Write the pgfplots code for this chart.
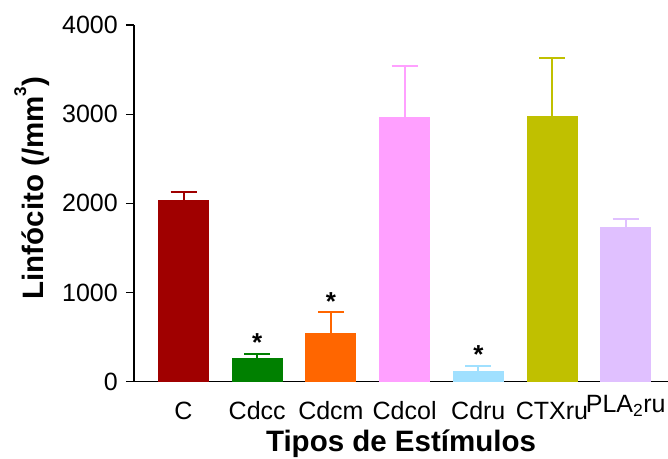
\documentclass[border=0pt]{standalone}
\usepackage{pgfplots}
\pgfplotsset{compat=1.18}
\usepackage{fontspec}
\setmainfont{Liberation Sans}

\definecolor{cC}{RGB}{160,0,0}
\definecolor{cDcc}{RGB}{0,128,0}
\definecolor{cDcm}{RGB}{255,102,0}
\definecolor{cDcol}{RGB}{255,160,255}
\definecolor{cDru}{RGB}{160,224,255}
\definecolor{cCTX}{RGB}{192,192,0}
\definecolor{cPLA}{RGB}{224,192,255}

\pgfplotsset{
  stimbar/.style={
    fill=#1, draw=none, bar width=51pt, bar shift=0pt,
    error bars/.cd, y dir=plus, y explicit,
    error bar style={draw=#1, line width=2pt},
    error mark options={draw=#1, line width=2pt, rotate=90, mark size=13pt},
  },
}

\begin{document}
\begin{tikzpicture}
\useasboundingbox (-134pt,-76.3pt) rectangle (534pt,381.7pt);
\begin{axis}[
  at={(0,0)}, anchor=south west,
  scale only axis, width=534pt, height=356.7pt,
  ybar,
  xmin=-0.672, xmax=6.574, ymin=0, ymax=4000,
  axis x line*=bottom, axis y line*=left,
  axis line style={line width=1.3pt},
  clip=false,
  xtick={0,...,6},
  xticklabels={C,Cdcc,Cdcm,Cdcol,Cdru,CTXru,\raisebox{7pt}{PLA\textsubscript{2}ru}},
  x tick style={draw=none},
  xticklabel style={anchor=base, yshift=-30pt, inner sep=0pt,
    font=\fontsize{25}{30}\selectfont},
  ytick={0,1000,2000,3000,4000},
  yticklabels={0,1000,2000,3000,4000},
  tick align=outside,
  major tick length=8pt,
  y tick style={line width=1.3pt, black},
  yticklabel style={anchor=east, inner sep=0pt, xshift=-8pt,
    font=\fontsize{25}{30}\selectfont},
  xlabel={Tipos de Estímulos},
  xlabel style={at={(axis description cs:0.5,0)}, anchor=base,
    yshift=-70pt, font=\fontsize{29.5}{34}\bfseries},
  ylabel={Linfócito (/mm\raisebox{17pt}{\fontsize{17}{17}\selectfont 3})},
  ylabel style={at={(axis description cs:-0.1704,0.543)}, anchor=base,
    rotate=0, font=\fontsize{29.5}{34}\bfseries},
]
\addplot[stimbar=cC]    coordinates {(0,2040) +- (0,90)};
\addplot[stimbar=cDcc]  coordinates {(1,270)  +- (0,45)};
\addplot[stimbar=cDcm]  coordinates {(2,550)  +- (0,230)};
\addplot[stimbar=cDcol] coordinates {(3,2970) +- (0,570)};
\addplot[stimbar=cDru]  coordinates {(4,115)  +- (0,65)};
\addplot[stimbar=cCTX]  coordinates {(5,2975) +- (0,660)};
\addplot[stimbar=cPLA]  coordinates {(6,1730) +- (0,95)};
% significance marks above the error bars
\node[anchor=base, inner sep=0pt, yshift=2pt, font=\fontsize{26}{26}\bfseries] at (axis cs:1,315) {*};
\node[anchor=base, inner sep=0pt, yshift=2pt, font=\fontsize{26}{26}\bfseries] at (axis cs:2,780) {*};
\node[anchor=base, inner sep=0pt, yshift=2pt, font=\fontsize{26}{26}\bfseries] at (axis cs:4,180) {*};
\end{axis}
\end{tikzpicture}
\end{document}
